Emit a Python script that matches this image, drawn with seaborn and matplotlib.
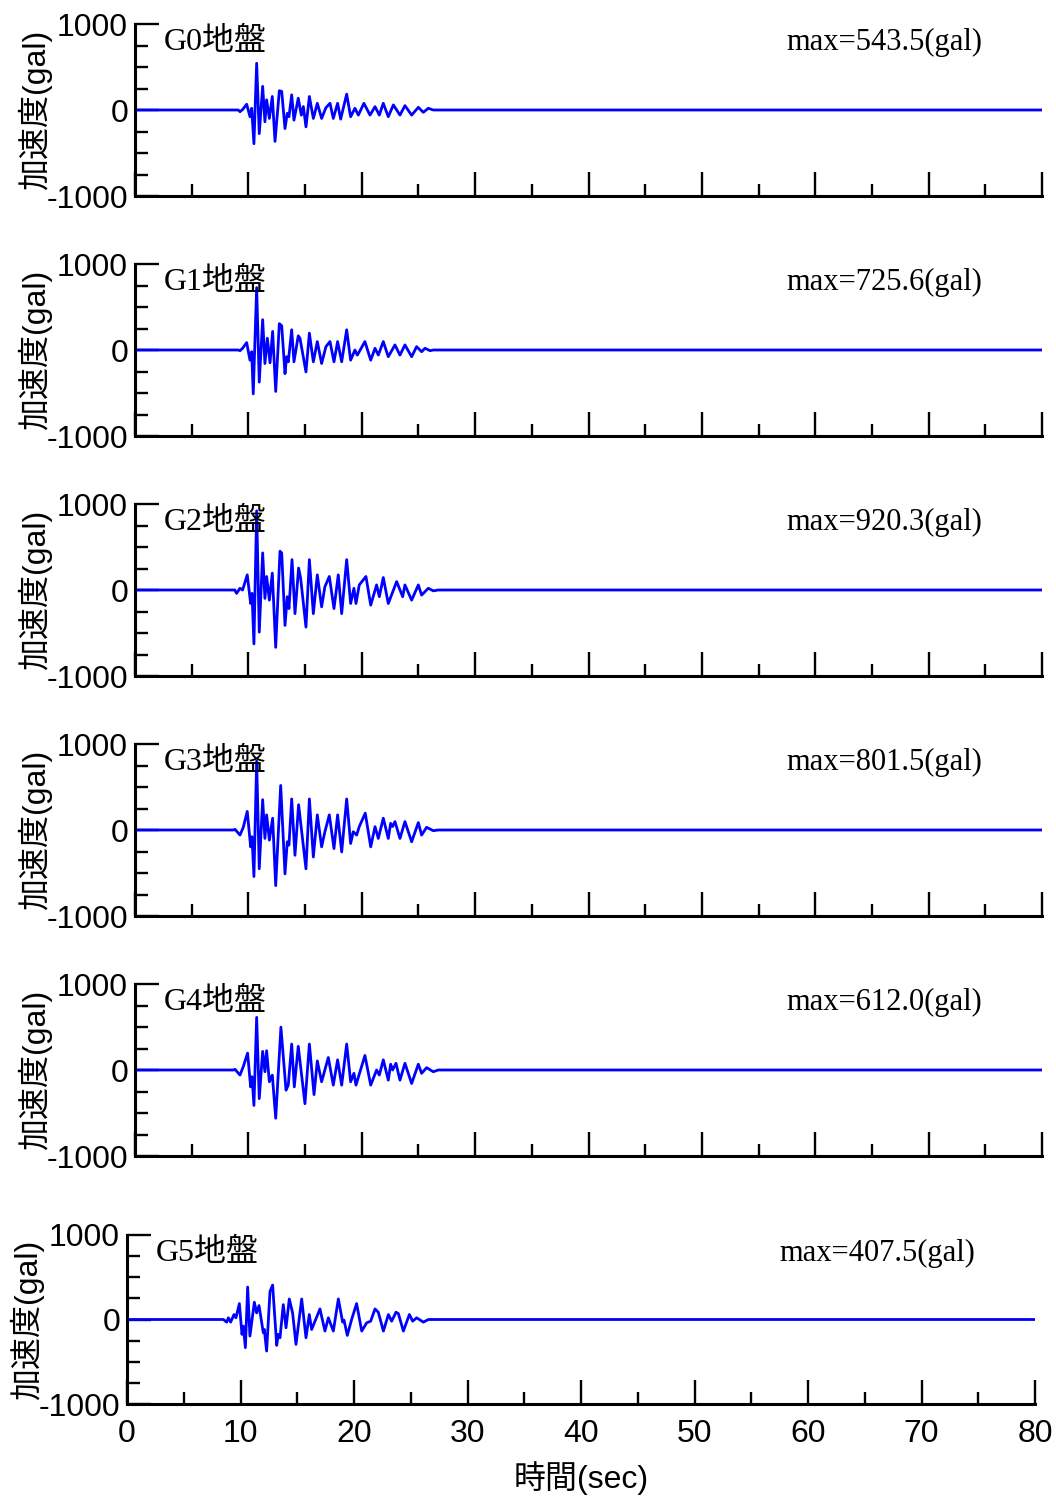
import matplotlib
matplotlib.use("Agg")
import matplotlib.pyplot as plt
from matplotlib.ticker import MultipleLocator, FixedLocator
import seaborn as sns
import pandas as pd

sns.set_style("white")
plt.rcParams['font.family'] = ['Liberation Sans', 'Noto Sans CJK JP']
plt.rcParams['text.color'] = 'black'
plt.rcParams['xtick.color'] = 'black'
plt.rcParams['ytick.color'] = 'black'

# ---------------- data ----------------
panel_names = ["G0地盤", "G1地盤", "G2地盤", "G3地盤", "G4地盤", "G5地盤"]
max_labels = ["max=543.5(gal)", "max=725.6(gal)", "max=920.3(gal)",
              "max=801.5(gal)", "max=612.0(gal)", "max=407.5(gal)"]

t_g0 = [0, 9.11, 9.26, 9.49, 9.85, 10.14, 10.29, 10.49, 10.73, 10.96, 11.26, 11.46, 11.61, 11.85,
        12.11, 12.35, 12.73, 12.94, 13.23, 13.43, 13.58, 13.82, 14.02, 14.40, 14.67, 14.85, 15.08,
        15.38, 15.73, 16.08, 16.46, 16.84, 17.20, 17.49, 17.87, 18.14, 18.67, 19.02, 19.40, 19.70,
        20.19, 20.73, 21.17, 21.55, 21.90, 22.34, 22.79, 23.37, 23.81, 24.40, 24.99, 25.43, 25.87,
        26.31, 80]
a_g0 = [0, 0, -20, 5, 67, -78, 20, -392, 543.5, -275, 275, -137, 118, -98,
        157, -365, 224, 216, -216, -39, -78, 176, -118, 137, -60, 40, -196,
        157, -98, 78, -98, 27, 78, -98, 78, -106, 184, -78, 20, -59,
        78, -59, 39, -59, 78, -78, 59, -59, 51, -59, 31, -27, 20,
        0, 0]

t_g1 = [0, 9.1, 9.26, 9.49, 9.85, 10.14, 10.29, 10.43, 10.73, 10.96, 11.26, 11.46, 11.67, 11.91,
        12.14, 12.41, 12.73, 12.94, 13.23, 13.37, 13.52, 13.82, 14.02, 14.40, 14.55, 15.08, 15.38,
        15.73, 16.08, 16.46, 16.84, 17.20, 17.55, 17.87, 18.23, 18.67, 19.02, 19.40, 19.61, 20.28,
        20.79, 21.17, 21.46, 21.90, 22.34, 22.93, 23.37, 23.81, 24.40, 24.84, 25.28, 25.58, 26.02,
        26.31, 80]
a_g1 = [0, 0, -8, 20, 86, -118, -20, -510, 725.6, -373, 353, -157, 137, -149,
        216, -482, 306, 282, -275, -78, -137, 235, -137, 165, 137, -255, 196,
        -137, 98, -157, 39, 98, -137, 98, -137, 235, -118, 0, -59, 98,
        -118, 20, -59, 98, -78, 59, -59, 59, -78, 39, -20, 20, -8,
        0, 0]

t_g2 = [0, 8.8, 8.96, 9.26, 9.49, 9.90, 10.20, 10.32, 10.49, 10.73, 10.96, 11.26, 11.46, 11.61,
        11.85, 12.11, 12.41, 12.79, 12.94, 13.23, 13.43, 13.58, 13.85, 14.11, 14.43, 14.61, 15.08,
        15.38, 15.73, 16.08, 16.46, 16.75, 17.14, 17.55, 17.93, 18.23, 18.67, 19.02, 19.31, 19.49,
        19.78, 20.37, 20.79, 21.31, 21.55, 21.90, 22.34, 23.08, 23.61, 23.81, 24.40, 24.99, 25.28,
        25.87, 26.31, 26.75, 80]
a_g2 = [0, 0, -39, 20, 0, 176, -157, -39, -627, 920.3, -490, 431, -98, 157,
        -118, 196, -667, 451, 431, -412, -78, -216, 353, -275, 255, 137, -431,
        353, -275, 176, -196, 39, 157, -216, 176, -275, 353, -157, 20, -157,
        59, 157, -176, 59, -78, 145, -157, 98, -78, 59, -118, 59, -59,
        20, -10, 0, 0]

t_g3 = [0, 8.7, 8.82, 9.26, 9.55, 9.90, 10.20, 10.32, 10.49, 10.73, 10.96, 11.26, 11.46, 11.61,
        11.85, 12.14, 12.41, 12.85, 13.23, 13.43, 13.58, 13.82, 14.11, 14.43, 15.08, 15.38, 15.73,
        16.08, 16.46, 16.75, 17.14, 17.55, 17.87, 18.23, 18.67, 19.02, 19.25, 19.55, 19.78, 20.31,
        20.79, 21.17, 21.46, 21.90, 22.34, 22.55, 22.72, 22.93, 23.37, 23.81, 24.40, 24.99, 25.28,
        25.72, 26.31, 26.75, 80]
a_g3 = [0, 0, 8, -59, 31, 216, -196, -78, -541, 801.5, -451, 353, -98, 176,
        -118, 137, -647, 518, -510, -137, -176, 361, -294, 294, -451, 361, -314,
        176, -196, -20, 176, -216, 176, -255, 361, -157, -20, -59, 39, 196,
        -196, 39, -98, 137, -98, 78, 40, 98, -98, 98, -137, 86, -59,
        31, -8, 0, 0]

t_g4 = [0, 8.7, 8.82, 9.26, 9.55, 9.93, 10.20, 10.32, 10.49, 10.73, 10.96, 11.26, 11.46, 11.61,
        11.85, 11.97, 12.11, 12.41, 12.87, 13.32, 13.52, 13.82, 14.05, 14.40, 14.99, 15.38, 15.79,
        16.08, 16.46, 17.05, 17.49, 17.87, 18.23, 18.67, 19.02, 19.31, 19.49, 20.28, 20.79, 21.31,
        21.55, 21.90, 22.34, 22.55, 22.72, 23.02, 23.37, 23.81, 24.40, 24.99, 25.28, 25.72, 26.31,
        26.75, 80]
a_g4 = [0, 0, 8, -59, 39, 196, -196, -78, -412, 612.0, -333, 216, -20, 224,
        -137, -90, -60, -561, 498, -235, -176, 302, -196, 275, -392, 302, -286,
        106, -137, 145, -176, 118, -176, 302, -137, -39, -176, 169, -176, 0,
        -59, 118, -118, 67, 0, 78, -118, 78, -157, 67, -39, 27, -20,
        0, 0]

t_g5 = [0, 8.49, 8.78, 8.93, 9.13, 9.43, 9.60, 9.90, 10.13, 10.25, 10.43, 10.63, 10.83, 11.22,
        11.42, 11.63, 12.01, 12.10, 12.30, 12.60, 12.83, 13.19, 13.33, 13.48, 13.77, 14.01, 14.30,
        14.59, 14.89, 15.39, 15.77, 16.06, 16.27, 17.00, 17.44, 17.74, 18.18, 18.62, 19.00, 19.12,
        19.41, 19.79, 20.23, 20.68, 21.12, 21.47, 21.85, 22.14, 22.59, 23.03, 23.32, 23.70, 23.91,
        24.35, 24.88, 25.17, 25.52, 26.11, 26.55, 80]
a_g5 = [0, 0, -31, 20, -31, 59, 20, 188, -176, -78, -333, 384, -196, 204,
        78, 165, -157, -118, -373, 333, 407.5, -306, -176, -216, 176, -98, 243,
        78, -294, 243, -216, 59, -118, 125, -137, 20, -137, 243, -31, -8,
        -188, 0, 188, -137, -39, -20, 125, 86, -137, 59, -20, 86, 70,
        -137, 59, -20, 20, -31, 0, 0]

series_t = [t_g0, t_g1, t_g2, t_g3, t_g4, t_g5]
series_a = [a_g0, a_g1, a_g2, a_g3, a_g4, a_g5]

x_major = list(range(0, 81, 10))
y_major = [-1000, 0, 1000]
y_ticklabels = ["-1000", "0", "1000"]

# ---------------- layout ----------------
W, H = 1056, 1499
fig = plt.figure(figsize=(W / 100, H / 100), dpi=100)

# pixel boxes: (left, right, top, bottom)
boxes = [(135, 1042, 24 + 240 * k, 196 + 240 * k) for k in range(5)] + [(127, 1035, 1235, 1404)]

serif = ['Liberation Serif', 'Noto Sans CJK JP']
sans = ['Liberation Sans', 'Noto Sans CJK JP']

for i, (l, r, tp, bt) in enumerate(boxes):
    ax = fig.add_axes([l / W, 1 - bt / H, (r - l) / W, (bt - tp) / H])
    df = pd.DataFrame({"t": series_t[i], "a": series_a[i]})
    sns.lineplot(data=df, x="t", y="a", ax=ax, color="#0000ff", linewidth=2.0,
                 estimator=None, sort=False, zorder=1)
    ax.set_xlim(0, 80)
    ax.set_ylim(-1000, 1000)
    ax.set_xlabel("")
    ax.set_ylabel("")
    for s in ["top", "right"]:
        ax.spines[s].set_visible(False)
    for s in ["left", "bottom"]:
        ax.spines[s].set_linewidth(2.2)
        ax.spines[s].set_color("black")
    ax.xaxis.set_major_locator(FixedLocator(x_major))
    ax.xaxis.set_minor_locator(MultipleLocator(5))
    ax.yaxis.set_major_locator(FixedLocator(y_major))
    ax.yaxis.set_minor_locator(MultipleLocator(250))
    ax.tick_params(which="both", bottom=True, left=True, top=False, right=False)
    ax.tick_params(which="major", direction="in", length=17, width=1.7, colors="black",
                   labelsize=23, pad=5)
    ax.tick_params(which="minor", direction="in", length=9, width=1.7, colors="black")
    ax.tick_params(axis="x", which="major", pad=11)
    ax.set_yticklabels(y_ticklabels, family=sans, fontsize=23)
    if i < 5:
        ax.set_xticklabels([])
    else:
        ax.set_xticklabels([str(v) for v in x_major], family=sans, fontsize=23)
    ax.set_facecolor("none")

    ax.text(0.032, 0.893, panel_names[i], transform=ax.transAxes, ha="left", va="center",
            family=serif, fontsize=23, color="black")
    ax.text(0.718, 0.89, max_labels[i], transform=ax.transAxes, ha="left", va="center",
            family=serif, fontsize=22, color="black")

    yl_x = 35 if i < 5 else 27
    fig.text(yl_x / W, 1 - ((tp + bt) / 2) / H, "加速度(gal)", rotation=90,
             ha="center", va="center", family=sans, fontsize=23, color="black")

fig.text(581 / W, 1 - 1478 / H, "時間(sec)", ha="center", va="center", family=sans,
         fontsize=23, color="black")

fig.savefig("out.png", dpi=100, facecolor="white")
